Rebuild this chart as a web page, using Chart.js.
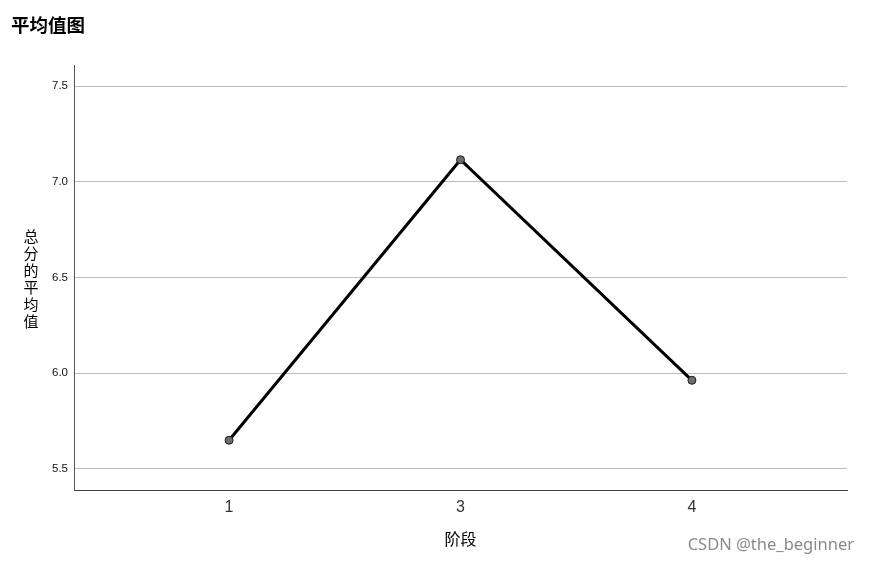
<!DOCTYPE html>
<html>
<head>
<meta charset="utf-8">
<script src="https://cdn.jsdelivr.net/npm/chart.js@4"></script>
<style>
  html, body { margin: 0; padding: 0; background: #fff; }
  #wrap { width: 869px; height: 564px; position: relative; }
</style>
</head>
<body>
<div id="wrap"><canvas id="my-chart"></canvas></div>
<script>
"use strict";
// data
const categories = ["1", "3", "4"];
const means = [5.65, 7.115, 5.963];
const yTicks = [5.5, 6.0, 6.5, 7.0, 7.5];
const chartTitle = "平均值图";
const yTitle = "总分的平均值";
const xTitle = "阶段";
const watermark = "CSDN @the_beginner";

const cjk = "'Noto Sans CJK SC', 'Noto Sans', sans-serif";

// draw the title, stacked y title, x title and watermark as text
const textPlugin = {
  id: "texts",
  afterDraw(chart) {
    const ctx = chart.ctx;
    const area = chart.chartArea;
    ctx.save();
    ctx.fillStyle = "#000";
    ctx.textBaseline = "middle";
    ctx.textAlign = "left";
    ctx.font = "bold 18.5px " + cjk;
    ctx.fillText(chartTitle, 11, 25);

    // y title, one character under the other
    ctx.textAlign = "center";
    ctx.font = "15px " + cjk;
    const step = 17;
    const chars = yTitle.split("");
    const midY = (area.top + area.bottom) / 2 + 1;
    const startY = midY - (step * (chars.length - 1)) / 2;
    for (let i = 0; i < chars.length; i++) {
      ctx.fillText(chars[i], 31, startY + i * step);
    }

    ctx.font = "16px " + cjk;
    ctx.fillText(xTitle, (area.left + area.right) / 2, 539);

    ctx.fillStyle = "#8a8a8a";
    ctx.textAlign = "right";
    ctx.font = "16.5px 'Noto Sans', sans-serif";
    ctx.fillText(watermark, 854, 545);
    ctx.restore();
  },
};

const points = [];
for (let i = 0; i < means.length; i++) {
  points.push({ x: i, y: means[i] });
}

new Chart(document.getElementById("my-chart"), {
  type: "line",
  data: {
    datasets: [
      {
        data: points,
        borderColor: "#000",
        borderWidth: 3,
        pointRadius: 4,
        pointBackgroundColor: "#6e6e6e",
        pointBorderColor: "#1a1a1a",
        pointBorderWidth: 1,
        tension: 0,
      },
    ],
  },
  options: {
    responsive: true,
    maintainAspectRatio: false,
    animation: false,
    layout: { padding: { top: 65, right: 22, left: 0, bottom: 0 } },
    plugins: {
      legend: { display: false },
      tooltip: { enabled: false },
    },
    scales: {
      x: {
        type: "linear",
        min: -0.67,
        max: 2.67,
        afterBuildTicks(scale) {
          scale.ticks = categories.map((c, i) => ({ value: i }));
        },
        afterFit(scale) {
          scale.height = 74;
        },
        ticks: {
          callback: (v) => categories[v],
          color: "#333",
          font: { family: "'Liberation Sans', sans-serif", size: 16 },
          padding: 8,
          maxRotation: 0,
        },
        grid: { display: false, drawTicks: false },
        border: { display: true, color: "#444", width: 1 },
      },
      y: {
        min: 5.39,
        max: 7.61,
        afterBuildTicks(scale) {
          scale.ticks = yTicks.map((v) => ({ value: v }));
        },
        afterFit(scale) {
          scale.width = 74;
        },
        ticks: {
          callback: (v) => v.toFixed(1),
          color: "#111",
          font: { family: "'Liberation Sans', sans-serif", size: 11.5 },
          padding: 6,
        },
        grid: { color: "#bdbdbd", lineWidth: 1, drawTicks: false },
        border: { display: true, color: "#555", width: 1 },
      },
    },
  },
  plugins: [textPlugin],
});
</script>
</body>
</html>
